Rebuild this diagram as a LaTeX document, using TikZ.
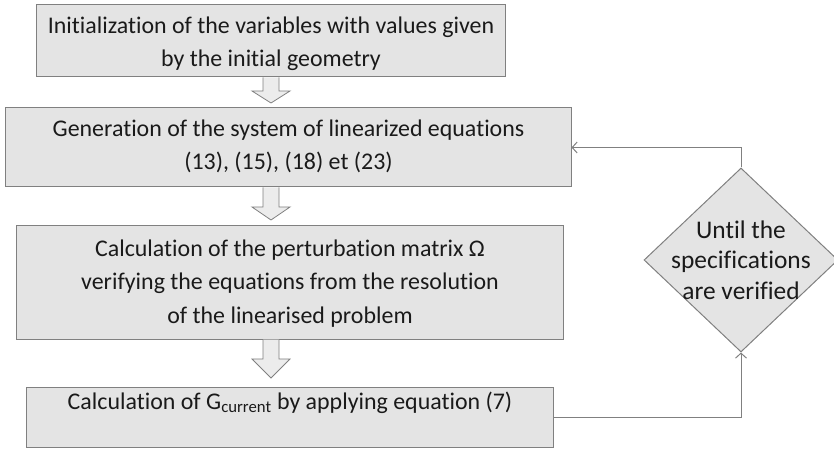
\documentclass[tikz,border=0pt]{standalone}
\usepackage{fontspec}
\setmainfont{Carlito}[Ligatures=NoCommon]
\usetikzlibrary{calc,arrows,arrows.meta,positioning,shapes.geometric}

\definecolor{boxfill}{HTML}{E4E4E4}
\definecolor{boxline}{HTML}{808080}
\definecolor{txt}{HTML}{1A1A1A}

\tikzset{
    stepbox/.style={draw=boxline, fill=boxfill, line width=1bp, inner sep=0pt},
    check/.style={diamond, draw=boxline, fill=boxfill, line width=1bp, inner sep=0pt,
        minimum width=194bp, minimum height=184bp},
    loopline/.style={draw=boxline, line width=1bp, -{Straight Barb[length=5bp,width=11bp]}},
    steptext/.style={align=center, text=txt, font=\fontsize{24}{33.5}\selectfont},
}

% hollow down arrow: #1 start, #2 tip, #3 head length
\newcommand{\blockarrow}[3]{
    \draw[draw=boxline, fill=boxfill!70!white, line width=0.8bp]
        ($(#1)+(-8,0)$) -- ($(#2)+(-8,-#3)$) -- ($(#2)+(-19,-#3)$) -- (#2)
        -- ($(#2)+(19,-#3)$) -- ($(#2)+(8,-#3)$) -- ($(#1)+(8,0)$);
}

\begin{document}
\begin{tikzpicture}[x=1bp, y=-1bp]
        \useasboundingbox (0,0) rectangle (834,450);

        \coordinate (c1) at (271,41);
        \coordinate (c2) at (288.5,147.5);
        \coordinate (c3) at (290,282.5);
        \coordinate (c4) at (290,417.5);

        \node[stepbox, minimum width=468bp, minimum height=72bp] (init) at (c1) {};
        \node[steptext] (inittext) at ($(c1)+(0,3)$)
            {Initialization of the variables with values given\\by the initial geometry};

        \node[stepbox, minimum width=565bp, minimum height=79bp] (generation) at (c2) {};
        \node[steptext] (gentext) at ($(c2)+(0,-1)$)
            {Generation of the system of linearized equations\\(13), (15), (18) et (23)};

        \node[stepbox, minimum width=546bp, minimum height=113bp] (perturb) at (c3) {};
        \node[steptext] (perttext) at ($(c3)+(0,1)$)
            {Calculation of the perturbation matrix Ω\\verifying the equations from the resolution\\of the linearised problem};

        \node[stepbox, minimum width=526bp, minimum height=59bp] (current) at (c4) {};
        \node[steptext] (curtext) at ($(c4)+(0,-15)$)
            {Calculation of G\textsubscript{current} by applying equation (7)};

        \node[check] (spec) at (741,260) {};
        \node[steptext, font=\fontsize{25.5}{30.5}\selectfont] (spectext) at (spec.center)
            {Until the\\specifications\\are verified};

        % block arrows between the steps
        \coordinate (t1) at (271,103);
        \coordinate (t2) at (271,220);
        \coordinate (t3) at (271,378);
        \blockarrow{init.south -| t1}{t1}{12}
        \blockarrow{generation.south -| t2}{t2}{13}
        \blockarrow{perturb.south -| t3}{t3}{19}

        % loop back
        \draw[loopline] (current.east) -| (spec.south);
        \draw[loopline] (spec.north) |- (generation.east);
    \end{tikzpicture}
\end{document}
